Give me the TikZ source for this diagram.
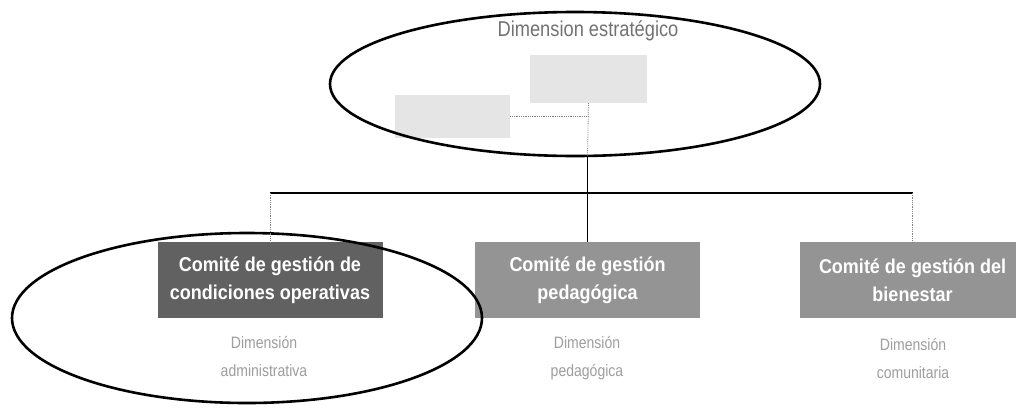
\documentclass[tikz,border=0pt]{standalone}
\usepackage{fontspec}
\setmainfont{Liberation Sans}
\newfontfamily\cond[FakeStretch=0.9]{Liberation Sans}
\newfontfamily\condlight[FakeStretch=0.85]{Liberation Sans}
\usetikzlibrary{shapes.geometric}
\begin{document}
\begin{tikzpicture}[x=1pt,y=-1pt,
  ring/.style={ellipse, draw=black, line width=2.6pt, inner sep=0pt},
  combox/.style={rectangle, minimum width=225pt, minimum height=76pt, inner sep=0pt,
    text=white, font=\cond\bfseries\fontsize{20}{28}\selectfont, align=center},
  council/.style={rectangle, fill=black!10, inner sep=0pt},
  dimlabel/.style={text=black!38, font=\condlight\fontsize{16.5}{28}\selectfont, align=center},
  toptitle/.style={text=black!55, font=\condlight\fontsize{21.5}{24}\selectfont},
  tree/.style={line width=1.3pt, black},
  faint/.style={black!50, line width=0.8pt, densely dotted}]
\useasboundingbox[fill=white] (0,0) rectangle (1016,410);

% faded council boxes inside the strategic ellipse
\node[council, minimum width=117pt, minimum height=48pt] (boxB) at (588.5,79) {};
\node[council, minimum width=115pt, minimum height=43pt] (boxA) at (452.5,116.5) {};

% committee boxes
\node[combox, fill=black!62] (box1) at (270,280) {Comité de gestión de\\condiciones operativas};
\node[combox, fill=black!42] (box2) at (587.5,280) {Comité de gestión\\pedagógica};
\node[combox, fill=black!42] (box3) at (912.5,280) {Comité de gestión del\\bienestar};

% dimension labels
\node[dimlabel] (sub1) at (264,356) {Dimensión\\administrativa};
\node[dimlabel] (sub2) at (587,358) {Dimensión\\pedagógica};
\node[dimlabel] (sub3) at (913,358) {Dimensión\\comunitaria};

% ellipses
\node[ring, minimum width=490pt, minimum height=144pt] (topell) at (575,84) {};
\node[ring, minimum width=470pt, minimum height=170pt] (botell) at (247,318) {};
\node[toptitle] (title) at (588,31) {Dimension estratégico};

% connectors
\coordinate (hub) at (587.5,193);
\coordinate (ellbot) at (587.5,156);
\draw[faint] (boxA.east) -- (boxA.east -| boxB.south);
\draw[faint] (boxB.south) -- (ellbot);
\draw[tree] (ellbot) -- (box2.north);
\draw[tree] (hub -| box1.north) -- (hub -| box3.north);
\draw[faint] (hub -| box1.north) -- (box1.north);
\draw[faint] (hub -| box3.north) -- (box3.north);
\end{tikzpicture}
\end{document}
